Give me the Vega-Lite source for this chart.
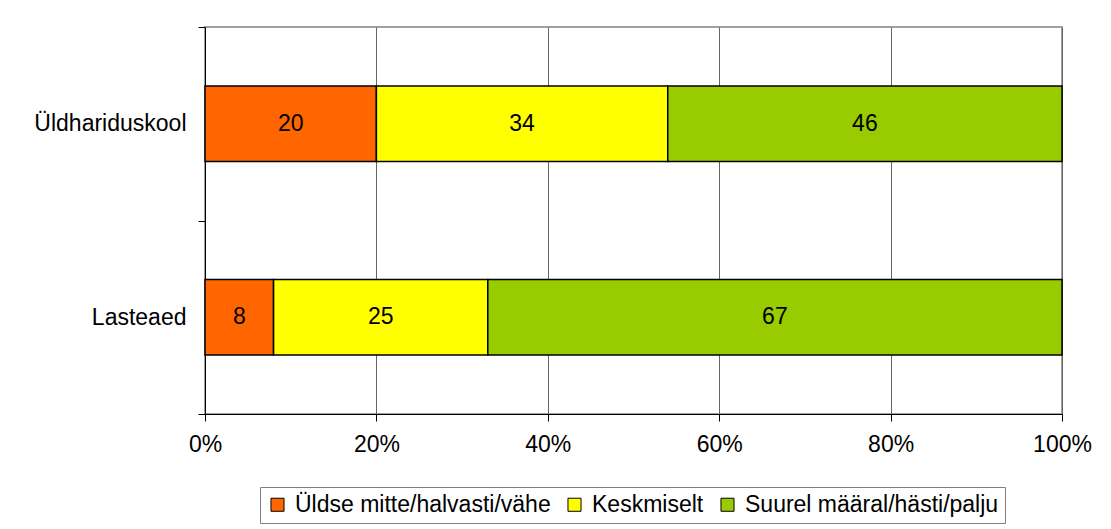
{
  "$schema": "https://vega.github.io/schema/vega-lite/v6.json",
  "autosize": "none",
  "width": 857,
  "height": 387,
  "padding": {"left": 205, "top": 27, "right": 49, "bottom": 115},
  "background": "white",
  "data": {
    "values": [
      {"kool": "Üldhariduskool", "hinnang": "Üldse mitte/halvasti/vähe", "ord": 1, "value": 20},
      {"kool": "Üldhariduskool", "hinnang": "Keskmiselt", "ord": 2, "value": 34},
      {"kool": "Üldhariduskool", "hinnang": "Suurel määral/hästi/palju", "ord": 3, "value": 46},
      {"kool": "Lasteaed", "hinnang": "Üldse mitte/halvasti/vähe", "ord": 1, "value": 8},
      {"kool": "Lasteaed", "hinnang": "Keskmiselt", "ord": 2, "value": 25},
      {"kool": "Lasteaed", "hinnang": "Suurel määral/hästi/palju", "ord": 3, "value": 67}
    ]
  },
  "encoding": {
    "y": {
      "field": "kool",
      "type": "nominal",
      "sort": ["Üldhariduskool", "Lasteaed"],
      "scale": {"paddingInner": 0, "paddingOuter": 0},
      "axis": {
        "title": null,
        "tickBand": "extent",
        "tickSize": 7,
        "tickColor": "#000000",
        "domainColor": "#000000",
        "labelFontSize": 23,
        "labelPadding": 12,
        "labelColor": "#000000",
        "labelFont": "Liberation Sans",
        "grid": false
      }
    },
    "x": {
      "field": "value",
      "type": "quantitative",
      "stack": "normalize",
      "scale": {"domain": [0, 1], "nice": false},
      "axis": {
        "title": null,
        "format": ".0%",
        "values": [0, 0.2, 0.4, 0.6, 0.8, 1],
        "tickSize": 7,
        "tickColor": "#000000",
        "domainColor": "#000000",
        "labelFontSize": 23,
        "labelPadding": 12,
        "labelColor": "#000000",
        "labelFont": "Liberation Sans",
        "grid": true,
        "gridColor": "#666666",
        "gridOpacity": 1,
        "labelFlush": false
      }
    },
    "order": {"field": "ord", "type": "quantitative"}
  },
  "layer": [
    {
      "mark": {"type": "bar", "stroke": "#000000", "strokeWidth": 1.5, "height": {"band": 0.39}},
      "encoding": {
        "color": {
          "field": "hinnang",
          "type": "nominal",
          "sort": ["Üldse mitte/halvasti/vähe", "Keskmiselt", "Suurel määral/hästi/palju"],
          "scale": {
            "domain": ["Üldse mitte/halvasti/vähe", "Keskmiselt", "Suurel määral/hästi/palju"],
            "range": ["#FF6600", "#FFFF00", "#99CC00"]
          },
          "legend": {
            "title": null,
            "orient": "none",
            "legendX": 55,
            "legendY": 460,
            "direction": "horizontal",
            "symbolType": "square",
            "symbolSize": 170,
            "symbolStrokeColor": "#000000",
            "symbolStrokeWidth": 1,
            "symbolOpacity": 1,
            "labelFontSize": 23,
            "labelFont": "Liberation Sans",
            "labelColor": "#000000",
            "labelLimit": 400,
            "columnPadding": 12,
            "symbolOffset": 0,
            "labelOffset": 6,
            "padding": 6,
            "strokeColor": "#808080",
            "fillColor": "#ffffff"
          }
        }
      }
    },
    {
      "mark": {"type": "text", "fontSize": 23, "font": "Liberation Sans", "color": "#000000"},
      "encoding": {
        "x": {"field": "value", "type": "quantitative", "stack": "normalize", "bandPosition": 0.5},
        "text": {"field": "value", "type": "quantitative"}
      }
    }
  ],
  "config": {
    "view": {"stroke": "#a0a0a0", "strokeWidth": 2}
  }
}
